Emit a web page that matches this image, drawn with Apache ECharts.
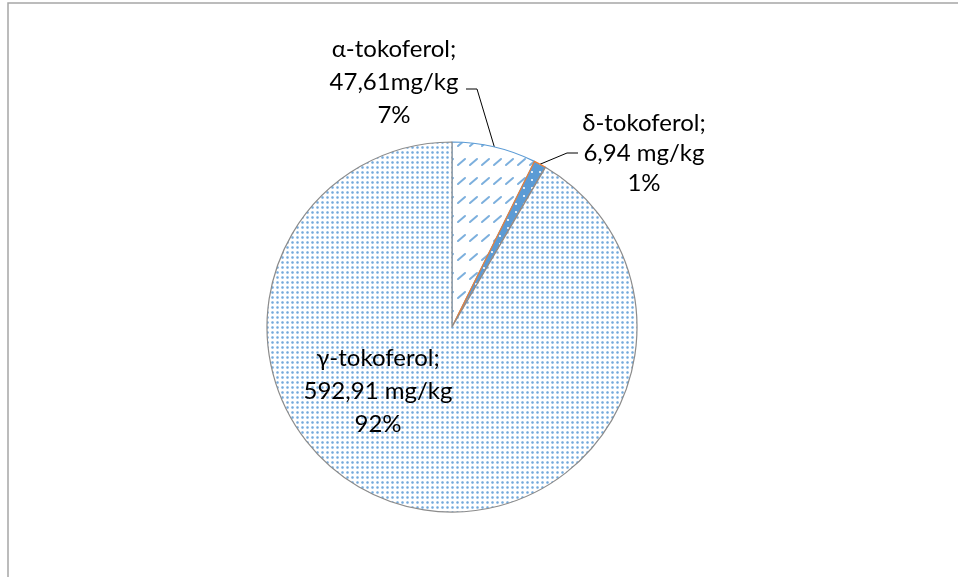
<!DOCTYPE html>
<html>
<head>
<meta charset="utf-8">
<script src="https://cdn.jsdelivr.net/npm/echarts@6/dist/echarts.min.js"></script>
<style>
  html, body { margin: 0; padding: 0; background: #fff; }
  #main { width: 958px; height: 577px; }
</style>
</head>
<body>
<div id="main"></div>
<script>
// tocopherol content, mg/kg
var names = ['α-tokoferol', 'δ-tokoferol', 'γ-tokoferol']
var values = [47.61, 6.94, 592.91]
var unitGap = ['', ' ', ' ']   // the α label has no space before the unit

// label anchors (centre of each text block) and leader line bends
var labelPos = [[394, 82], [644, 153], [378, 391]]
var leaderBends = [[[477, 89], [466, 89]], [[567, 153], [578, 153]], null]

function makeTile (w, h, draw) {
  var c = document.createElement('canvas')
  c.width = w
  c.height = h
  draw(c.getContext('2d'))
  return c
}

// small light-blue dots (gamma)
var dotTile = makeTile(5, 5, function (ctx) {
  ctx.fillStyle = '#fff'
  ctx.fillRect(0, 0, 5, 5)
  ctx.fillStyle = 'rgba(155,194,230,0.45)'
  ctx.fillRect(1, 1, 3, 3)
  ctx.fillStyle = 'rgba(91,155,213,0.8)'
  ctx.fillRect(2, 2, 1, 1)
  ctx.fillStyle = 'rgba(91,155,213,0.5)'
  ctx.fillRect(1, 2, 1, 1)
  ctx.fillRect(3, 2, 1, 1)
  ctx.fillRect(2, 1, 1, 1)
  ctx.fillRect(2, 3, 1, 1)
})

// short upward diagonal dashes (alpha)
var dashTile = makeTile(12, 19, function (ctx) {
  ctx.fillStyle = '#fff'
  ctx.fillRect(0, 0, 12, 19)
  ctx.strokeStyle = 'rgba(91,155,213,0.8)'
  ctx.lineWidth = 2
  ctx.lineCap = 'round'
  ctx.beginPath()
  ctx.moveTo(2, 13)
  ctx.lineTo(9, 7)
  ctx.stroke()
})

// solid blue with white dots (delta)
var solidDotTile = makeTile(8, 8, function (ctx) {
  ctx.fillStyle = '#5b9bd5'
  ctx.fillRect(0, 0, 8, 8)
  ctx.fillStyle = 'rgba(255,255,255,0.8)'
  ctx.fillRect(3, 3, 2, 2)
})

var fills = [dashTile, solidDotTile, dotTile]
var borders = ['#5b9bd5', '#ed7d31', '#8c8c8c']

function fmtNum (v) {
  return v.toFixed(2).replace('.', ',')
}

var chart = echarts.init(document.getElementById('main'))

var option = {
  animation: false,
  backgroundColor: '#fff',
  graphic: [
    {
      type: 'polyline',
      shape: { points: [[8, 577], [8, 3], [958, 3]] },
      style: { stroke: '#a6a6a6', lineWidth: 1.5, fill: null }
    }
  ],
  series: [
    {
      type: 'pie',
      center: [452, 327],
      radius: 185,
      startAngle: 90,
      clockwise: true,
      avoidLabelOverlap: false,
      label: {
        show: true,
        color: '#000',
        fontFamily: 'Lato, "Noto Sans", sans-serif',
        fontSize: 24,
        lineHeight: 33,
        formatter: function (p) {
          return p.name + ';\n' + fmtNum(p.value) + unitGap[p.dataIndex] + 'mg/kg\n' + Math.round(p.percent) + '%'
        }
      },
      labelLine: {
        show: true,
        lineStyle: { color: '#000', width: 1 }
      },
      labelLayout: function (params) {
        var i = params.dataIndex
        var out = {
          x: labelPos[i][0],
          y: labelPos[i][1],
          align: 'center',
          verticalAlign: 'middle'
        }
        if (leaderBends[i] && params.labelLinePoints) {
          out.labelLinePoints = [params.labelLinePoints[0]].concat(leaderBends[i])
        }
        return out
      },
      data: names.map(function (n, i) {
        var item = {
          name: n,
          value: values[i],
          itemStyle: {
            color: { image: fills[i], repeat: 'repeat' },
            borderColor: borders[i],
            borderWidth: 1.2
          }
        }
        if (i === 1) item.label = { lineHeight: 30 }
        if (i === 2) {
          item.label = { position: 'inside' }
          item.labelLine = { show: false }
        }
        return item
      })
    }
  ]
}

chart.setOption(option)
</script>
</body>
</html>
